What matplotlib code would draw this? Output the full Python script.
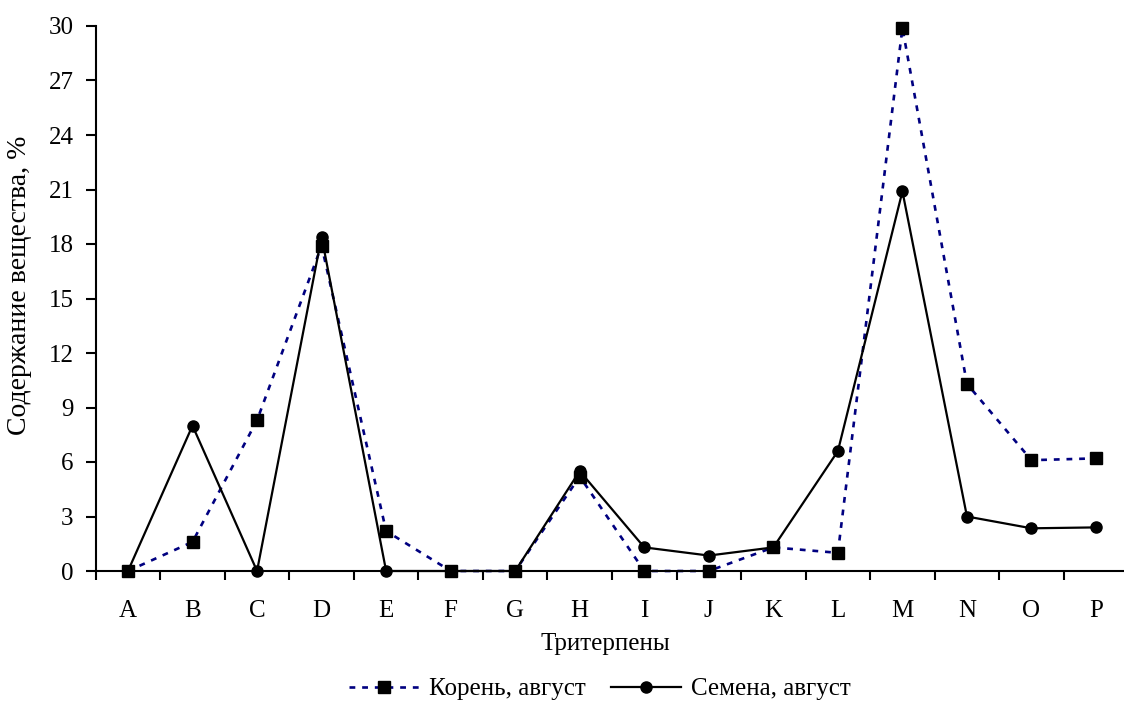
import numpy as np
import matplotlib
matplotlib.use("Agg")
import matplotlib.pyplot as plt

plt.rcParams['font.family'] = ['Liberation Serif', 'DejaVu Serif']

# data
categories = list("ABCDEFGHIJKLMNOP")
root_aug = [0, 1.6, 8.3, 17.9, 2.2, 0, 0, 5.2, 0, 0, 1.3, 1.0, 29.9, 10.3, 6.1, 6.2]
seed_aug = [0, 8.0, 0, 18.4, 0, 0, 0, 5.5, 1.3, 0.85, 1.3, 6.6, 20.9, 3.0, 2.35, 2.4]
y_ticks = [0, 3, 6, 9, 12, 15, 18, 21, 24, 27, 30]

fig = plt.figure(figsize=(11.24, 7.01), dpi=100)
W, H = 1124, 701
x0, x1 = 95.7, 1128.3
y_top, y_bot = 26, 571
ax = fig.add_axes([x0 / W, (H - y_bot) / H, (x1 - x0) / W, (y_bot - y_top) / H])

x = np.arange(len(categories))
ax.plot(x, root_aug, color='#000080', linestyle=(0, (2.2, 2.6)), linewidth=1.9,
        marker='s', markersize=8, markerfacecolor='black', markeredgecolor='black',
        label='Корень, август', clip_on=False)
ax.plot(x, seed_aug, color='black', linestyle='-', linewidth=1.6,
        marker='o', markersize=8, markerfacecolor='black', markeredgecolor='black',
        label='Семена, август', clip_on=False)

ax.set_xlim(-0.5, len(categories) - 0.5)
ax.set_ylim(0, 30)
ax.set_yticks(y_ticks)
ax.set_xticks(x)
ax.set_xticklabels(categories)
ax.set_xticks(np.arange(-0.5, len(categories), 1), minor=True)

ax.spines['top'].set_visible(False)
ax.spines['right'].set_visible(False)
ax.spines['left'].set_linewidth(1.5)
ax.spines['bottom'].set_linewidth(1.5)

ax.tick_params(axis='y', direction='out', length=7, width=1.5, labelsize=18, pad=9)
ax.tick_params(axis='x', which='major', length=0, labelsize=18, pad=21)
ax.tick_params(axis='x', which='minor', direction='out', length=6.5, width=1.5)

ax.set_ylabel('Содержание вещества, %', fontsize=20)
ax.set_xlabel('Тритерпены', fontsize=18)
ax.yaxis.set_label_coords((32 - x0) / (x1 - x0), (y_bot - 285) / (y_bot - y_top))
ax.xaxis.set_label_coords((605 - x0) / (x1 - x0), (y_bot - 633) / (y_bot - y_top))

fig.legend(loc='center', bbox_to_anchor=(600 / W, (H - 689) / H), ncol=2, frameon=False,
           fontsize=18, handlelength=2.8, columnspacing=1.0, handletextpad=0.4,
           borderpad=0)

fig.savefig('out.png', dpi=100)
